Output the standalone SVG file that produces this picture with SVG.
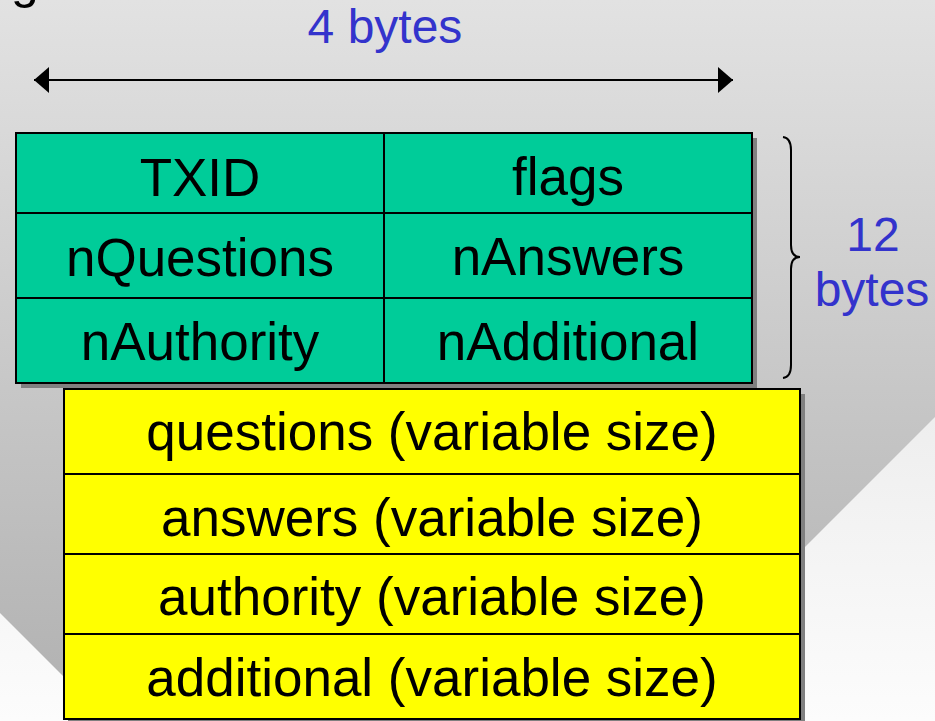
<svg xmlns="http://www.w3.org/2000/svg" width="935" height="721" viewBox="0 0 935 721">
  <defs>
    <linearGradient id="bgGrad" x1="0" y1="0" x2="0" y2="721" gradientUnits="userSpaceOnUse">
      <stop offset="0" stop-color="#e2e2e2"/>
      <stop offset="1" stop-color="#b0b0b0"/>
    </linearGradient>
    <linearGradient id="whiteGrad" x1="0" y1="417" x2="0" y2="721" gradientUnits="userSpaceOnUse">
      <stop offset="0" stop-color="#eeeeee"/>
      <stop offset="1" stop-color="#fcfcfc"/>
    </linearGradient>
    <marker id="arrowHead" viewBox="0 0 15 26" refX="15" refY="13" markerWidth="15" markerHeight="26" markerUnits="userSpaceOnUse" orient="auto-start-reverse">
      <path d="M0,0 L15,13 L0,26 Z" fill="#000"/>
    </marker>
    <style>
      .lbl { font-family: "Liberation Sans", Arial, sans-serif; font-size: 53px; fill: #000; text-anchor: middle; }
      .blue { font-family: "Liberation Sans", Arial, sans-serif; font-size: 48px; fill: #3333cc; text-anchor: middle; }
      .green { fill: #00cc99; stroke: #000; stroke-width: 2; }
      .yellow { fill: #ffff00; stroke: #000; stroke-width: 2; }
      .shadow { fill: #808080; }
      .conn { fill: none; stroke: #000; stroke-width: 2; }
    </style>
  </defs>

  <!-- background -->
  <rect x="0" y="0" width="935" height="721" fill="url(#bgGrad)"/>
  <polygon points="0,613 108,721 0,721" fill="url(#whiteGrad)"/>
  <polygon points="935,417 935,721 631,721" fill="url(#whiteGrad)"/>

  <!-- partial title glyph cut off at top (as in the reference) -->
  <text x="25" y="-2" class="lbl" style="font-size:50px">g</text>

  <!-- shadows -->
  <rect class="shadow" x="21" y="138" width="736" height="250"/>
  <rect class="shadow" x="68" y="394" width="737" height="330"/>

  <!-- header fields (12 bytes) -->
  <g id="txid">
    <rect class="green" x="16" y="133" width="368" height="80"/>
    <text class="lbl" x="200" y="196">TXID</text>
  </g>
  <g id="flags">
    <rect class="green" x="384" y="133" width="368" height="80"/>
    <text class="lbl" x="568" y="195">flags</text>
  </g>
  <g id="nQuestions">
    <rect class="green" x="16" y="213" width="368" height="85"/>
    <text class="lbl" x="200" y="276">nQuestions</text>
  </g>
  <g id="nAnswers">
    <rect class="green" x="384" y="213" width="368" height="85"/>
    <text class="lbl" x="568" y="275">nAnswers</text>
  </g>
  <g id="nAuthority">
    <rect class="green" x="16" y="298" width="368" height="85"/>
    <text class="lbl" x="200" y="360">nAuthority</text>
  </g>
  <g id="nAdditional">
    <rect class="green" x="384" y="298" width="368" height="85"/>
    <text class="lbl" x="568" y="360">nAdditional</text>
  </g>

  <!-- variable-size sections -->
  <g id="questions">
    <rect class="yellow" x="64" y="389" width="736" height="85"/>
    <text class="lbl" x="432" y="450">questions (variable size)</text>
  </g>
  <g id="answers">
    <rect class="yellow" x="64" y="474" width="736" height="80"/>
    <text class="lbl" x="432" y="536">answers (variable size)</text>
  </g>
  <g id="authority">
    <rect class="yellow" x="64" y="554" width="736" height="80"/>
    <text class="lbl" x="432" y="615">authority (variable size)</text>
  </g>
  <g id="additional">
    <rect class="yellow" x="64" y="634" width="736" height="85"/>
    <text class="lbl" x="432" y="696">additional (variable size)</text>
  </g>

  <!-- dimension annotations -->
  <g id="connectors">
    <line class="conn" x1="34" y1="80" x2="733" y2="80" marker-start="url(#arrowHead)" marker-end="url(#arrowHead)"/>
    <path class="conn" d="M783,137 Q791,138 791,150 L791,245 Q791,257 800,257 Q791,257 791,269 L791,365 Q791,377 783,378"/>
  </g>

  <g id="label-4bytes">
    <text class="blue" x="385" y="43">4 bytes</text>
  </g>
  <g id="label-12bytes">
    <text class="blue" x="873" y="251">12</text>
    <text class="blue" x="872" y="306">bytes</text>
  </g>
</svg>
